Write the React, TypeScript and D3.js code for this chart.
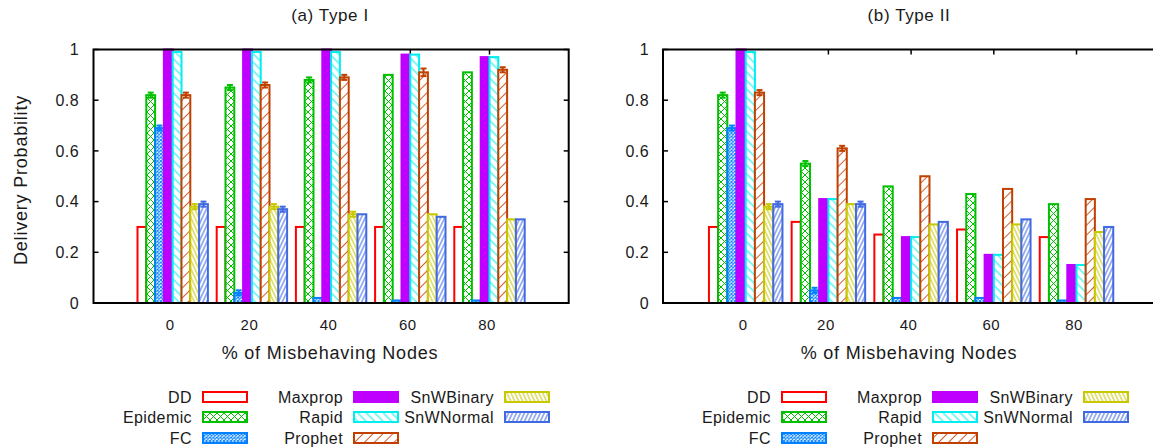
import React from 'react';
import * as d3 from 'd3';

const groups = ['0', '20', '40', '60', '80'];
const seriesNames = ['DD', 'Epidemic', 'FC', 'Maxprop', 'Rapid', 'Prophet', 'SnWBinary', 'SnWNormal'];
const seriesColors = ['#ff0000', '#00c000', '#0080ff', '#c000ff', '#00eeee', '#c04000', '#c8c800', '#4169e1'];
const yTicks = [0, 0.2, 0.4, 0.6, 0.8, 1];
const yTickLabels = ['0', '0.2', '0.4', '0.6', '0.8', '1'];

// Panel (a) Type I
const a_DD = [0.30, 0.30, 0.30, 0.30, 0.30];
const a_Epidemic = [0.82, 0.85, 0.88, 0.90, 0.91];
const a_FC = [0.69, 0.04, 0.02, 0.01, 0.01];
const a_Maxprop = [1.0, 1.0, 1.0, 0.98, 0.97];
const a_Rapid = [0.99, 0.99, 0.99, 0.98, 0.97];
const a_Prophet = [0.82, 0.86, 0.89, 0.91, 0.92];
const a_SnWBinary = [0.38, 0.38, 0.35, 0.35, 0.33];
const a_SnWNormal = [0.39, 0.37, 0.35, 0.34, 0.33];
const a_errors = [
  [0, 0, 0, 0, 0],
  [0.01, 0.01, 0.01, 0, 0],
  [0.01, 0.01, 0, 0, 0],
  [0, 0, 0, 0, 0],
  [0, 0, 0, 0, 0],
  [0.01, 0.01, 0.01, 0.015, 0.01],
  [0.01, 0.01, 0.01, 0, 0],
  [0.01, 0.01, 0, 0, 0],
];

// Panel (b) Type II
const b_DD = [0.30, 0.32, 0.27, 0.29, 0.26];
const b_Epidemic = [0.82, 0.55, 0.46, 0.43, 0.39];
const b_FC = [0.69, 0.05, 0.02, 0.02, 0.01];
const b_Maxprop = [1.0, 0.41, 0.26, 0.19, 0.15];
const b_Rapid = [0.99, 0.41, 0.26, 0.19, 0.15];
const b_Prophet = [0.83, 0.61, 0.50, 0.45, 0.41];
const b_SnWBinary = [0.38, 0.39, 0.31, 0.31, 0.28];
const b_SnWNormal = [0.39, 0.39, 0.32, 0.33, 0.30];
const b_errors = [
  [0, 0, 0, 0, 0],
  [0.01, 0.01, 0, 0, 0],
  [0.01, 0.01, 0, 0, 0],
  [0, 0, 0, 0, 0],
  [0, 0, 0, 0, 0],
  [0.01, 0.01, 0, 0, 0],
  [0.01, 0, 0, 0, 0],
  [0.01, 0.01, 0, 0, 0],
];

const panels = [
  {
    title: '(a) Type I',
    left: 93.5,
    step: 79.2,
    textCx: 330,
    legendX: 203,
    yLabel: true,
    tickRight: 79,
    values: [a_DD, a_Epidemic, a_FC, a_Maxprop, a_Rapid, a_Prophet, a_SnWBinary, a_SnWNormal],
    errors: a_errors,
  },
  {
    title: '(b) Type II',
    left: 663,
    step: 82.7,
    textCx: 909,
    legendX: 782,
    yLabel: false,
    tickRight: 649,
    values: [b_DD, b_Epidemic, b_FC, b_Maxprop, b_Rapid, b_Prophet, b_SnWBinary, b_SnWNormal],
    errors: b_errors,
  },
];

const FONT = '"Liberation Sans", Arial, Helvetica, sans-serif';
const TEXT = '#1a1a1a';
const PLOT_TOP = 49.5;
const PLOT_BOTTOM = 303;

function fillFor(i: number) {
  if (i === 0) return '#ffffff';
  if (i === 3) return seriesColors[3];
  return `url(#pat${i})`;
}

function Patterns() {
  const line = (id: string, color: string, spacing: number, angle: number, sw = 1) => (
    <pattern id={id} width={spacing} height={20} patternUnits="userSpaceOnUse" patternTransform={`rotate(${angle})`}>
      <rect width={spacing} height={20} fill="#ffffff" />
      <line x1={spacing / 2} y1={0} x2={spacing / 2} y2={20} stroke={color} strokeWidth={sw} />
    </pattern>
  );
  return (
    <defs>
      <pattern id="pat1" width={7} height={7} patternUnits="userSpaceOnUse">
        <rect width={7} height={7} fill="#ffffff" />
        <path d="M0,0L7,7M7,0L0,7" stroke={seriesColors[1]} strokeWidth={1} />
      </pattern>
      <pattern id="pat2" width={3.5} height={3.5} patternUnits="userSpaceOnUse">
        <rect width={3.5} height={3.5} fill="#ffffff" />
        <path d="M0,0L3.5,3.5M3.5,0L0,3.5" stroke={seriesColors[2]} strokeWidth={1} />
      </pattern>
      {line('pat4', seriesColors[4], 6, -45, 1)}
      {line('pat5', '#d06030', 7, 45, 1)}
      {line('pat6', seriesColors[6], 3.6, -25, 1)}
      {line('pat7', seriesColors[7], 3.6, 25, 1)}
    </defs>
  );
}

function Panel({ p }: { p: typeof panels[number] }) {
  const x = d3.scaleLinear().domain([-1, 5]).range([p.left, p.left + 6 * p.step]);
  const y = d3.scaleLinear().domain([0, 1]).range([PLOT_BOTTOM, PLOT_TOP]);
  const nS = seriesNames.length;
  const slot = 1 / (nS + 1);
  const bw = x(slot) - x(0);
  const x0 = x(-1);
  const x1 = x(5);

  return (
    <g>
      <text x={p.textCx} y={21} textAnchor="middle" fontSize={17} fontFamily={FONT} fill={TEXT} letterSpacing={0.6}>
        {p.title}
      </text>
      {/* ticks */}
      {yTicks.map((t, i) => (
        <g key={'yt' + i}>
          <line x1={x0} x2={x0 + 5} y1={y(t)} y2={y(t)} stroke="#000" strokeWidth={1.5} />
          <line x1={x1} x2={x1 - 5} y1={y(t)} y2={y(t)} stroke="#000" strokeWidth={1.5} />
          <text x={p.tickRight} y={y(t)} dy="0.36em" textAnchor="end" fontSize={16} fontFamily={FONT} fill={TEXT} letterSpacing={0.4}>
            {yTickLabels[i]}
          </text>
        </g>
      ))}
      {groups.map((g, gi) => (
        <g key={'xt' + gi}>
          <line x1={x(gi)} x2={x(gi)} y1={PLOT_TOP} y2={PLOT_TOP + 5} stroke="#000" strokeWidth={1.5} />
          <line x1={x(gi)} x2={x(gi)} y1={PLOT_BOTTOM} y2={PLOT_BOTTOM - 5} stroke="#000" strokeWidth={1.5} />
          <text x={x(gi) - 2.5} y={330} textAnchor="middle" fontSize={15} fontFamily={FONT} fill={TEXT} letterSpacing={0.5}>
            {g}
          </text>
        </g>
      ))}
      {/* bars */}
      {seriesNames.map((s, si) => (
        <g key={s}>
          {p.values[si].map((v, gi) => {
            const cx = x(gi + (si - (nS - 1) / 2) * slot);
            return (
              <rect
                key={gi}
                x={cx - bw / 2}
                y={y(v)}
                width={bw}
                height={y(0) - y(v)}
                fill={fillFor(si)}
                stroke={seriesColors[si]}
                strokeWidth={2}
              />
            );
          })}
        </g>
      ))}
      {/* error bars */}
      {seriesNames.map((s, si) => (
        <g key={'e' + s}>
          {p.values[si].map((v, gi) => {
            const e = p.errors[si][gi];
            if (!e) return null;
            const cx = x(gi + (si - (nS - 1) / 2) * slot);
            const ya = y(Math.min(1, v + e));
            const yb = y(v - e);
            return (
              <g key={gi} stroke={seriesColors[si]} strokeWidth={2}>
                <line x1={cx} x2={cx} y1={ya} y2={yb} />
                <line x1={cx - 3} x2={cx + 3} y1={ya} y2={ya} />
                <line x1={cx - 3} x2={cx + 3} y1={yb} y2={yb} />
              </g>
            );
          })}
        </g>
      ))}
      {/* frame */}
      <rect x={x0} y={PLOT_TOP} width={x1 - x0} height={PLOT_BOTTOM - PLOT_TOP} fill="none" stroke="#000" strokeWidth={2} />
      {/* axis labels */}
      <text x={p.textCx} y={359} textAnchor="middle" fontSize={18} fontFamily={FONT} fill={TEXT} letterSpacing={0.8}>
        % of Misbehaving Nodes
      </text>
      {p.yLabel && (
        <text transform="translate(27,180) rotate(-90)" textAnchor="middle" fontSize={18} fontFamily={FONT} fill={TEXT} letterSpacing={0.8}>
          Delivery Probability
        </text>
      )}
      {/* legend */}
      {seriesNames.map((s, si) => {
        const col = Math.floor(si / 3);
        const row = si % 3;
        const bx = p.legendX + col * 151;
        const cy = [397, 417, 438][row];
        return (
          <g key={'l' + s}>
            <text x={bx - 11} y={cy} dy="0.36em" textAnchor="end" fontSize={16} fontFamily={FONT} fill={TEXT} letterSpacing={0.4}>
              {s}
            </text>
            <rect x={bx} y={cy - 5} width={44} height={10} fill={fillFor(si)} stroke={seriesColors[si]} strokeWidth={2} />
          </g>
        );
      })}
    </g>
  );
}

export default function App() {
  return (
    <svg width={1153} height={448} style={{ position: 'absolute', left: 0, top: 0, background: '#fff' }}>
      <rect width={1153} height={448} fill="#ffffff" />
      <Patterns />
      {panels.map((p, i) => (
        <Panel key={i} p={p} />
      ))}
    </svg>
  );
}
